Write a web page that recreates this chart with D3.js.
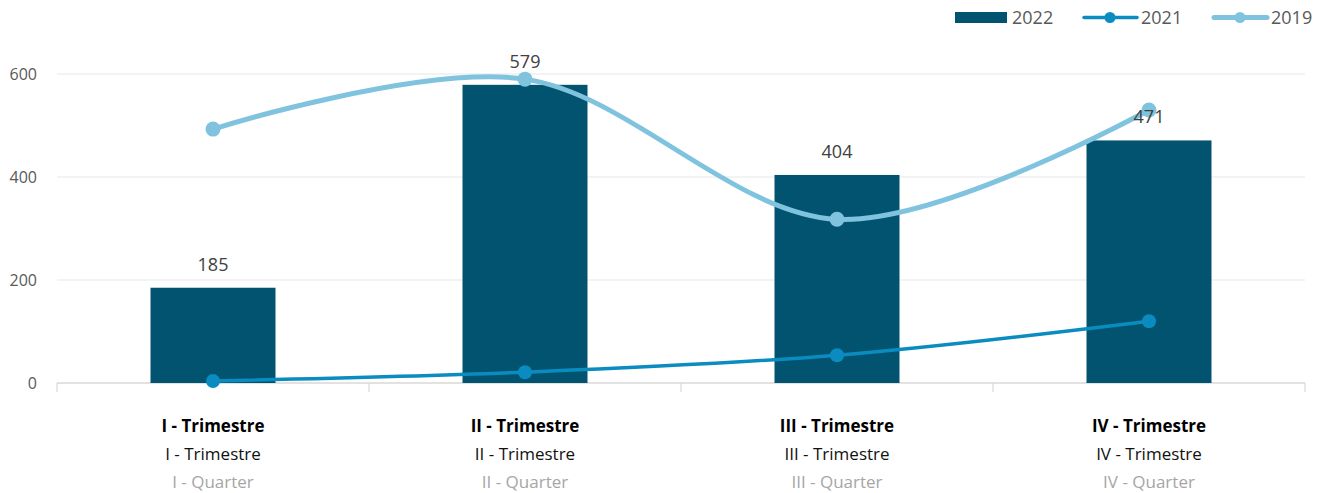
<!DOCTYPE html>
<html><head><meta charset="utf-8">
<script src="https://cdn.jsdelivr.net/npm/d3@7"></script>
<style>body{margin:0;background:#fff}svg{display:block}</style>
</head><body>
<svg id="c" width="1319" height="493"></svg>
<script>
const categories = ["I - Trimestre","II - Trimestre","III - Trimestre","IV - Trimestre"];
const subLabels = ["I - Trimestre","II - Trimestre","III - Trimestre","IV - Trimestre"];
const enLabels = ["I - Quarter","II - Quarter","III - Quarter","IV - Quarter"];
const values2022 = [185, 579, 404, 471];
const values2021 = [4, 21, 54, 120];
const values2019 = [493, 590, 318, 530];
const yTicks = [0, 200, 400, 600];

const svg = d3.select("#c");
const font = "'Open Sans', 'Noto Sans', sans-serif";
const x = d3.scaleBand().domain(categories).range([57, 1305]).paddingInner(0).paddingOuter(0);
const y = d3.scaleLinear().domain([0, 600]).range([383, 74]);
const cx = d => x(d) + x.bandwidth()/2;

// gridlines
svg.append("g").selectAll("line").data(yTicks.filter(t=>t>0)).join("line")
  .attr("x1",57).attr("x2",1305).attr("y1",d=>y(d)).attr("y2",d=>y(d))
  .attr("stroke","#efefef").attr("stroke-width",1.3);

// y axis labels
const ya = svg.append("g").attr("transform","translate(57,0)")
  .call(d3.axisLeft(y).tickValues(yTicks).tickSize(0).tickPadding(20));
ya.select(".domain").remove();
ya.selectAll("text").attr("font-family",font).attr("font-size",16).attr("fill","#595959");

// x axis
const xa = svg.append("g").attr("transform","translate(0,383)");
xa.append("line").attr("x1",57).attr("x2",1305).attr("stroke","#d9d9d9").attr("stroke-width",1.5);
xa.selectAll("line.t").data(d3.range(categories.length+1)).join("line").attr("class","t")
  .attr("x1",i=>57+i*x.bandwidth()).attr("x2",i=>57+i*x.bandwidth())
  .attr("y1",0).attr("y2",9).attr("stroke","#d9d9d9").attr("stroke-width",1.2);

// bars
const barW = 125;
svg.append("g").selectAll("rect").data(values2022).join("rect")
  .attr("x",(d,i)=>cx(categories[i])-barW/2).attr("width",barW)
  .attr("y",d=>y(d)).attr("height",d=>y(0)-y(d)).attr("fill","#02536f");

// lines
const line = d3.line().x((d,i)=>cx(categories[i])).y(d=>y(d)).curve(d3.curveCatmullRom.alpha(0));
function series(vals, color, w, r){
  const g = svg.append("g");
  g.append("path").datum(vals).attr("d",line).attr("fill","none").attr("stroke",color).attr("stroke-width",w).attr("stroke-linecap","round");
  g.selectAll("circle").data(vals).join("circle").attr("cx",(d,i)=>cx(categories[i])).attr("cy",d=>y(d)).attr("r",r).attr("fill",color);
}
series(values2021, "#0a8cc0", 3.5, 7);
series(values2019, "#80c3de", 5, 7.5);

// bar labels
svg.append("g").selectAll("text").data(values2022).join("text")
  .attr("x",(d,i)=>cx(categories[i])).attr("y",d=>y(d)-17)
  .attr("text-anchor","middle").attr("font-family",font).attr("font-size",18).attr("fill","#404040")
  .text(d=>d);

// category labels
const lg = svg.append("g");
categories.forEach((c,i)=>{
  const px = cx(c);
  lg.append("text").attr("x",px).attr("y",432).attr("text-anchor","middle").attr("font-family",font).attr("font-size",17).attr("font-weight","bold").attr("fill","#000").text(c);
  lg.append("text").attr("x",px).attr("y",460).attr("text-anchor","middle").attr("font-family",font).attr("font-size",17).attr("fill","#111").text(subLabels[i]);
  lg.append("text").attr("x",px).attr("y",488).attr("text-anchor","middle").attr("font-family",font).attr("font-size",17).attr("fill","#a6a6a6").text(enLabels[i]);
});

// legend
const leg = svg.append("g").attr("font-family",font).attr("font-size",18).attr("fill","#595959");
leg.append("rect").attr("x",955).attr("y",12).attr("width",52).attr("height",11).attr("fill","#02536f");
leg.append("text").attr("x",1012).attr("y",24).text("2022");
leg.append("line").attr("x1",1084).attr("x2",1137).attr("y1",17.5).attr("y2",17.5).attr("stroke","#0a8cc0").attr("stroke-width",3.5).attr("stroke-linecap","round");
leg.append("circle").attr("cx",1110).attr("cy",17.5).attr("r",5.5).attr("fill","#0a8cc0");
leg.append("text").attr("x",1141).attr("y",24).text("2021");
leg.append("line").attr("x1",1214).attr("x2",1267).attr("y1",17.5).attr("y2",17.5).attr("stroke","#80c3de").attr("stroke-width",5).attr("stroke-linecap","round");
leg.append("circle").attr("cx",1240).attr("cy",17.5).attr("r",5.5).attr("fill","#80c3de");
leg.append("text").attr("x",1271).attr("y",24).text("2019");
</script>
</body></html>
